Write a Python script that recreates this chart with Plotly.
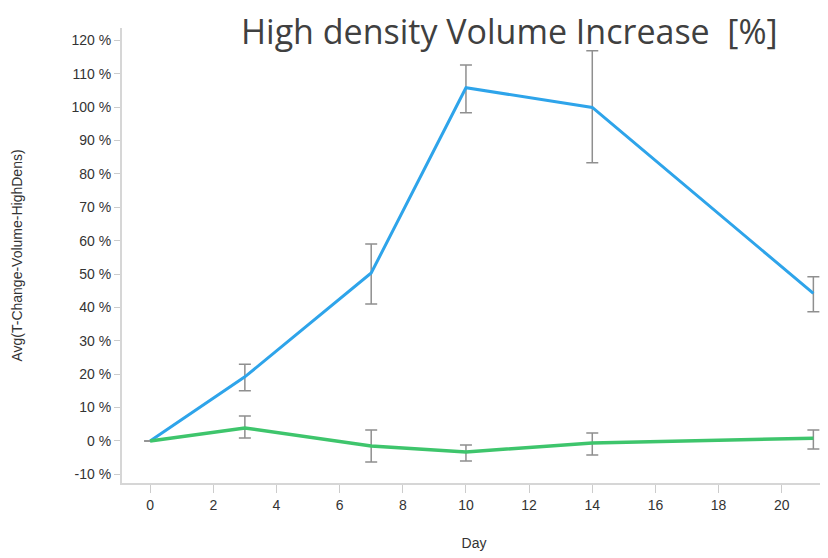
import plotly.graph_objects as go

days = [0, 3, 7, 10, 14, 21]

blue_vals = [0.0, 19.2, 50.3, 105.8, 99.9, 44.2]
blue_upper = [0.0, 23.0, 59.0, 112.6, 116.9, 49.2]
blue_lower = [0.0, 15.0, 41.0, 98.3, 83.3, 38.7]

green_vals = [0.0, 3.9, -1.5, -3.3, -0.6, 0.8]
green_upper = [0.0, 7.5, 3.3, -1.2, 2.4, 3.3]
green_lower = [0.0, 0.9, -6.3, -6.0, -4.2, -2.4]

x_ticks = [0, 2, 4, 6, 8, 10, 12, 14, 16, 18, 20]
y_ticks = [-10, 0, 10, 20, 30, 40, 50, 60, 70, 80, 90, 100, 110, 120]
y_tick_labels = [f"{v} %" for v in y_ticks]

title_text = "High density Volume Increase  [%]"
x_title = "Day"
y_title = "Avg(T-Change-Volume-HighDens)"


def err(vals, up, lo):
    return dict(
        type="data",
        symmetric=False,
        array=[u - v for u, v in zip(up, vals)],
        arrayminus=[v - l for v, l in zip(vals, lo)],
        color="#8f8f8f",
        thickness=1.5,
        width=6,
    )


fig = go.Figure()
fig.add_trace(go.Scatter(
    x=days, y=blue_vals, mode="lines",
    line=dict(color="#2ea4ea", width=3),
    error_y=err(blue_vals, blue_upper, blue_lower),
    showlegend=False,
))
fig.add_trace(go.Scatter(
    x=days, y=green_vals, mode="lines",
    line=dict(color="#3ec56c", width=3.5),
    error_y=err(green_vals, green_upper, green_lower),
    showlegend=False,
))

axis_font = dict(family="Liberation Sans, Arial, sans-serif", size=14, color="#333333")

# page has 8px body margin; figure sized so the plot area lands where the reference has it
fig.update_layout(
    width=820, height=550,
    margin=dict(l=114, r=2, t=20, b=75),
    paper_bgcolor="white", plot_bgcolor="white",
    xaxis=dict(
        range=[-0.89, 21.4],
        tickvals=x_ticks,
        ticks="outside", ticklen=8, tickcolor="#cccccc", tickwidth=1,
        showline=True, linecolor="#d6d6d6", linewidth=2,
        showgrid=False, zeroline=False,
        tickfont=axis_font,
        title=dict(text=x_title, font=axis_font, standoff=26),
    ),
    yaxis=dict(
        range=[-12.6, 123.7],
        tickvals=y_ticks,
        ticktext=y_tick_labels,
        ticks="outside", ticklen=6, tickcolor="#cccccc", tickwidth=1,
        showline=True, linecolor="#d6d6d6", linewidth=2,
        showgrid=False, zeroline=False,
        tickfont=axis_font,
        title=dict(text=y_title, font=axis_font, standoff=46),
    ),
    annotations=[dict(
        text=title_text, xref="paper", yref="paper",
        x=(509 - 122) / 704, y=1 + (28 - 31) / 455,
        xanchor="center", yanchor="middle", showarrow=False,
        font=dict(family="Open Sans, sans-serif", size=34, color="#404040"),
    )],
)

fig.write_html("out.html")
